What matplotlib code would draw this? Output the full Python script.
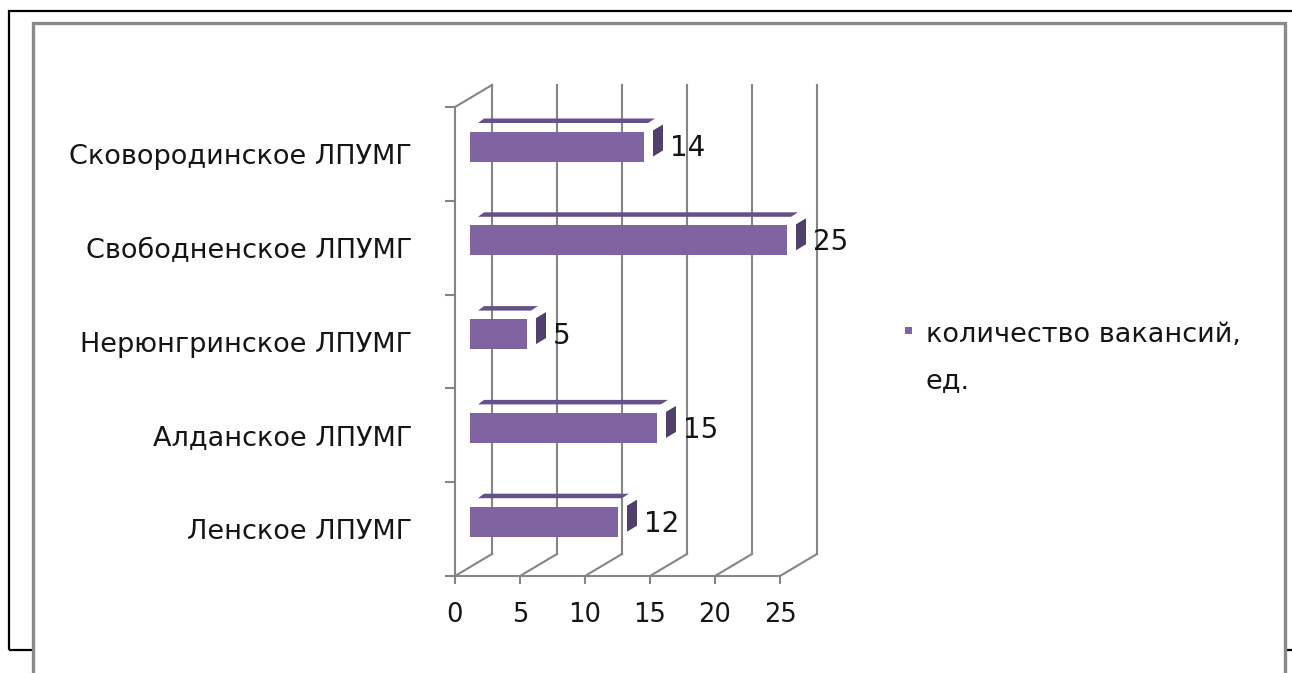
import matplotlib
matplotlib.use("Agg")
import numpy as np
import matplotlib.pyplot as plt
from matplotlib.patches import Polygon, Rectangle

# ---------------- data ----------------
categories = ["Ленское ЛПУМГ", "Алданское ЛПУМГ", "Нерюнгринское ЛПУМГ",
              "Свободненское ЛПУМГ", "Сковородинское ЛПУМГ"]
values = [12, 15, 5, 25, 14]
xticks = [0, 5, 10, 15, 20, 25]
series_name = "количество вакансий,"
series_unit = "ед."

# ---------------- style ----------------
W, H = 1292, 673
FONT = "DejaVu Sans"
plt.rcParams["font.family"] = [FONT]
GRID = "#858585"
FRONT = "#8064A2"
TOP = "#66508A"
SIDE = "#51406C"
TXT = "#151515"

fig = plt.figure(figsize=(W / 100, H / 100), dpi=100)

# frames
fig.add_artist(Rectangle((8.5 / W, (H - 650) / H), 1.2, (650 - 11) / H,
                         transform=fig.transFigure, fill=False, ec="black",
                         lw=1.6, zorder=0))
fig.add_artist(Rectangle((32.5 / W, -0.1), (1285 - 32.5) / W, (H - 23) / H + 0.1,
                         transform=fig.transFigure, fc="white", ec="#8a8a8a",
                         lw=2.4, zorder=1))

# axes = front plane of the 3D box
AX_L, AX_R, AX_T, AX_B = 455, 780, 107, 576
ax = fig.add_axes([AX_L / W, (H - AX_B) / H, (AX_R - AX_L) / W, (AX_B - AX_T) / H])
ax.set_zorder(2)
ax.patch.set_visible(False)
ax.set_xlim(xticks[0], xticks[-1])
ax.set_ylim(-0.5, len(categories) - 0.5)

px_x = (xticks[-1] - xticks[0]) / (AX_R - AX_L)
px_y = len(categories) / (AX_B - AX_T)

LW = 1.5
for s in ("top", "right"):
    ax.spines[s].set_visible(False)
for s in ("left", "bottom"):
    ax.spines[s].set_color(GRID)
    ax.spines[s].set_linewidth(LW)

ax.set_xticks(xticks)
ax.set_xticklabels([str(t) for t in xticks])
ax.tick_params(axis="x", length=6, width=LW, color=GRID, labelsize=18.5,
               labelcolor=TXT, pad=13)
ax.set_yticks(range(len(categories)))
ax.set_yticklabels(categories)
ax.tick_params(axis="y", which="major", length=0, labelsize=19.5, labelcolor=TXT, pad=31)
ax.set_yticks(np.arange(-0.5, len(categories), 1), minor=True)
ax.tick_params(axis="y", which="minor", length=7.5, width=LW, color=GRID)

# depth of the box
DX, DY = 37 * px_x, 22 * px_y
y0, y1 = -0.5, len(categories) - 0.5
for t in xticks:
    ax.plot([t, t + DX], [y0, y0 + DY], color=GRID, lw=LW, clip_on=False, zorder=1)
    ax.plot([t + DX, t + DX], [y0 + DY, y1 + DY], color=GRID, lw=LW, clip_on=False, zorder=1)
ax.plot([xticks[0], xticks[0] + DX], [y1, y1 + DY], color=GRID, lw=LW, clip_on=False, zorder=1)

# bars
for i, v in enumerate(values):
    yc = i + 7.4 * px_y
    ft = yc + 15 * px_y
    fb = yc - 15 * px_y
    x0 = 15 * px_x
    x1 = v + 7 * px_x
    ax.add_patch(Polygon([(x0, fb), (x1, fb), (x1, ft), (x0, ft)], closed=True,
                         fc=FRONT, ec="none", clip_on=False, zorder=3))
    ax.add_patch(Polygon([(x0 + 8 * px_x, ft + 8.5 * px_y), (x1 + 4 * px_x, ft + 8.5 * px_y),
                          (x1 + 11 * px_x, ft + 13 * px_y), (x0 + 14 * px_x, ft + 13 * px_y)],
                         closed=True, fc=TOP, ec="none", clip_on=False, zorder=3))
    ax.add_patch(Polygon([(x1 + 9 * px_x, ft + 1 * px_y), (x1 + 19 * px_x, ft + 7 * px_y),
                          (x1 + 19 * px_x, fb + 11 * px_y), (x1 + 9 * px_x, fb + 5 * px_y)],
                         closed=True, fc=SIDE, ec="none", clip_on=False, zorder=3))
    ax.text(x1 + 26 * px_x, yc - 10 * px_y, str(v), fontsize=20, color=TXT,
            ha="left", va="baseline", clip_on=False, zorder=4)

# legend
fig.add_artist(Rectangle((905 / W, (H - 334) / H), 7 / W, 7 / H,
                         transform=fig.transFigure, fc=FRONT, ec="none", zorder=3))
fig.text(926 / W, (H - 342) / H, series_name, fontsize=19.5, color=TXT,
         ha="left", va="baseline", zorder=3)
fig.text(926 / W, (H - 388) / H, series_unit, fontsize=19.5, color=TXT,
         ha="left", va="baseline", zorder=3)

fig.savefig("out.png", dpi=100)
